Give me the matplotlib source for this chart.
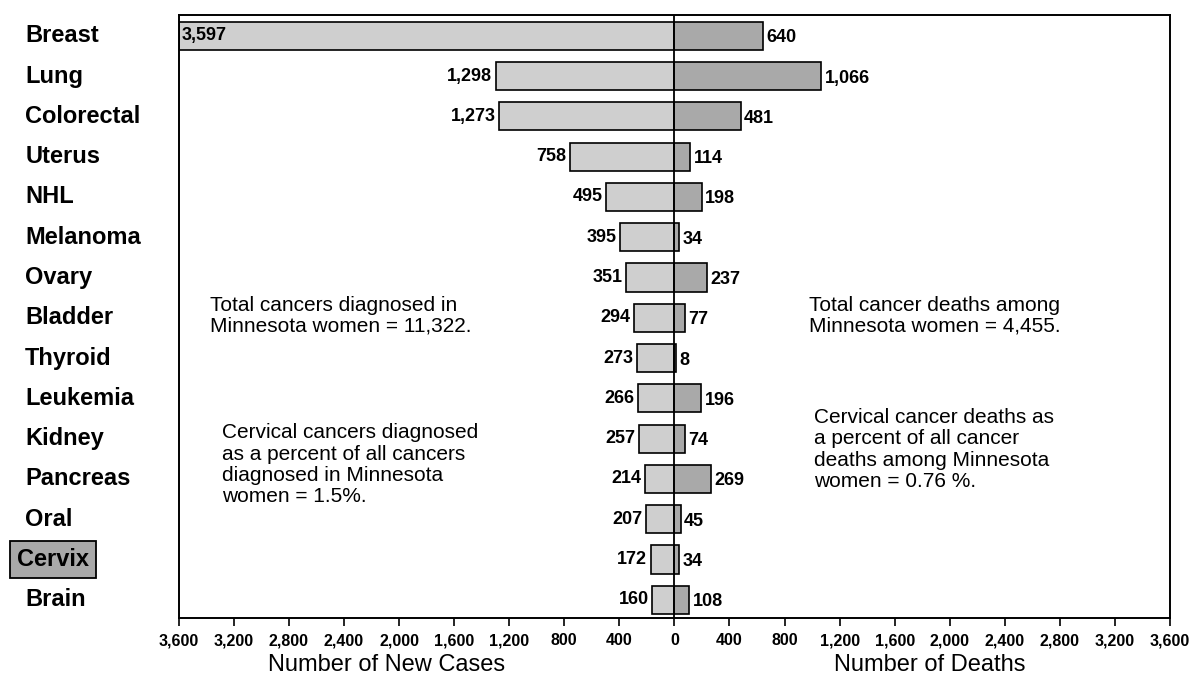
import matplotlib
matplotlib.use("Agg")
import matplotlib.pyplot as plt
import matplotlib.transforms as mtransforms

categories = ["Breast", "Lung", "Colorectal", "Uterus", "NHL", "Melanoma", "Ovary",
              "Bladder", "Thyroid", "Leukemia", "Kidney", "Pancreas", "Oral", "Cervix", "Brain"]
new_cases = [3597, 1298, 1273, 758, 495, 395, 351, 294, 273, 266, 257, 214, 207, 172, 160]
deaths = [640, 1066, 481, 114, 198, 34, 237, 77, 8, 196, 74, 269, 45, 34, 108]
tick_values = [-3600, -3200, -2800, -2400, -2000, -1600, -1200, -800, -400, 0,
               400, 800, 1200, 1600, 2000, 2400, 2800, 3200, 3600]
tick_labels = [f"{abs(v):,}" for v in tick_values]

plt.rcParams['font.family'] = ['Liberation Sans', 'DejaVu Sans']

fig = plt.figure(figsize=(12, 6.76), dpi=100)
ax = fig.add_axes([0.149, 0.086, 0.826, 0.892])

ypos = list(range(len(categories)))
bar_h = 0.7
ax.barh(ypos, [-v for v in new_cases], height=bar_h, color='#cfcfcf',
        edgecolor='black', linewidth=1.2, zorder=2)
ax.barh(ypos, deaths, height=bar_h, color='#a9a9a9',
        edgecolor='black', linewidth=1.2, zorder=2)
ax.axvline(0, color='black', linewidth=1.3, zorder=3)

ax.set_xlim(-3600, 3600)
ax.set_ylim(14.45, -0.52)

for i, (c, d) in enumerate(zip(new_cases, deaths)):
    if c > 3000:
        ax.text(-c + 20, i, f"{c:,}", ha='left', va='center', fontsize=13,
                fontweight='bold', zorder=4)
    else:
        ax.text(-c - 25, i, f"{c:,}", ha='right', va='center', fontsize=13,
                fontweight='bold', zorder=4)
    ax.text(d + 25, i + 0.05, f"{d:,}", ha='left', va='center', fontsize=13,
            fontweight='bold', zorder=4)

# category labels
trans = mtransforms.blended_transform_factory(fig.transFigure, ax.transData)
for i, name in enumerate(categories):
    if name == "Cervix":
        ax.text(0.014, i, name, transform=trans, ha='left', va='center',
                fontsize=17, fontweight='bold',
                bbox=dict(boxstyle='square,pad=0.3', facecolor='#a9a9a9',
                          edgecolor='black', linewidth=1.3))
    else:
        ax.text(0.021, i, name, transform=trans, ha='left', va='center',
                fontsize=17, fontweight='bold')

ax.set_yticks([])
ax.set_xticks(tick_values)
ax.set_xticklabels(tick_labels, fontsize=11.5, fontweight='bold')
ax.tick_params(axis='x', direction='out', length=6, width=1.2, pad=5)
for s in ax.spines.values():
    s.set_linewidth(1.4)

# annotations
ax.text(-3375, 6.94, "Total cancers diagnosed in\nMinnesota women = 11,322.",
        ha='left', va='center', fontsize=15, linespacing=1.1)
ax.text(975, 6.94, "Total cancer deaths among\nMinnesota women = 4,455.",
        ha='left', va='center', fontsize=15, linespacing=1.1)
ax.text(-3287, 10.65, "Cervical cancers diagnosed\nas a percent of all cancers\n"
        "diagnosed in Minnesota\nwomen = 1.5%.",
        ha='left', va='center', fontsize=15, linespacing=1.15)
ax.text(1011, 10.27, "Cervical cancer deaths as\na percent of all cancer\n"
        "deaths among Minnesota\nwomen = 0.76 %.",
        ha='left', va='center', fontsize=15, linespacing=1.15)

fig.text(0.322, 0.016, "Number of New Cases", ha='center', va='center', fontsize=17)
fig.text(0.775, 0.016, "Number of Deaths", ha='center', va='center', fontsize=17)

fig.savefig("out.png", dpi=100)
